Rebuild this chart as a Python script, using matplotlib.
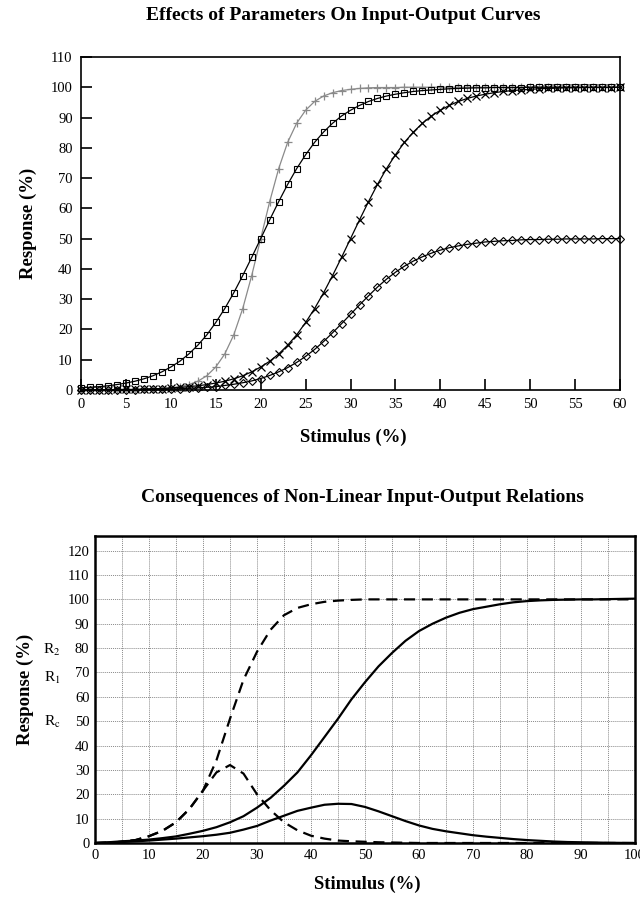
import matplotlib.pyplot as plt

plt.rcParams['font.family'] = ['Liberation Serif', 'DejaVu Serif']
plt.rcParams['mathtext.fontset'] = 'stix'

# upper panel: response at each stimulus step (0..60 %)
stim_top = list(range(0, 61))
steep = [0.0, 0.0, 0.0, 0.0, 0.0, 0.1, 0.1, 0.2, 0.3, 0.4,
         0.7, 1.1, 1.8, 2.9, 4.7, 7.6, 11.9, 18.2, 26.9, 37.8,
         50.0, 62.2, 73.1, 81.8, 88.1, 92.4, 95.3, 97.1, 98.2, 98.9,
         99.3, 99.6, 99.8, 99.9, 99.9, 99.9, 100.0, 100.0, 100.0, 100.0,
         100.0, 100.0, 100.0, 100.0, 100.0, 100.0, 100.0, 100.0, 100.0, 100.0,
         100.0, 100.0, 100.0, 100.0, 100.0, 100.0, 100.0, 100.0, 100.0, 100.0, 100.0]
shallow = [0.7, 0.9, 1.1, 1.4, 1.8, 2.3, 2.9, 3.7, 4.7, 6.0,
           7.6, 9.5, 11.9, 14.8, 18.2, 22.3, 26.9, 32.1, 37.8, 43.8,
           50.0, 56.2, 62.2, 67.9, 73.1, 77.7, 81.8, 85.2, 88.1, 90.5,
           92.4, 94.0, 95.3, 96.3, 97.1, 97.7, 98.2, 98.6, 98.9, 99.1,
           99.3, 99.5, 99.6, 99.7, 99.8, 99.8, 99.9, 99.9, 99.9, 99.9,
           100.0, 100.0, 100.0, 100.0, 100.0, 100.0, 100.0, 100.0, 100.0, 100.0, 100.0]
shifted = [0.1, 0.1, 0.1, 0.1, 0.2, 0.2, 0.2, 0.3, 0.4, 0.5,
           0.7, 0.9, 1.1, 1.4, 1.8, 2.3, 2.9, 3.7, 4.7, 6.0,
           7.6, 9.5, 11.9, 14.8, 18.2, 22.3, 26.9, 32.1, 37.8, 43.8,
           50.0, 56.2, 62.2, 67.9, 73.1, 77.7, 81.8, 85.2, 88.1, 90.5,
           92.4, 94.0, 95.3, 96.3, 97.1, 97.7, 98.2, 98.6, 98.9, 99.1,
           99.3, 99.5, 99.6, 99.7, 99.8, 99.8, 99.9, 99.9, 99.9, 99.9, 100.0]
half_max = [0.0, 0.0, 0.0, 0.1, 0.1, 0.1, 0.1, 0.2, 0.2, 0.3,
            0.3, 0.4, 0.6, 0.7, 0.9, 1.1, 1.5, 1.9, 2.4, 3.0,
            3.8, 4.8, 6.0, 7.4, 9.1, 11.1, 13.4, 16.0, 18.9, 21.9,
            25.0, 28.1, 31.1, 34.0, 36.6, 38.9, 40.9, 42.6, 44.0, 45.2,
            46.2, 47.0, 47.6, 48.1, 48.5, 48.9, 49.1, 49.3, 49.4, 49.6,
            49.7, 49.7, 49.8, 49.8, 49.9, 49.9, 49.9, 49.9, 50.0, 50.0, 50.0]

# lower panel: stimulus 0..100 % in steps of 2.5
stim_bot = [i * 2.5 for i in range(41)]
r2 = [0.0, 0.1, 0.5, 1.2, 2.8, 5.0, 8.5, 14.0, 21.5, 34.0,
      51.0, 67.0, 78.5, 87.5, 93.5, 96.5, 98.0, 99.0, 99.5, 99.8,
      100.0, 100.0, 100.0, 100.0, 100.0, 100.0, 100.0, 100.0, 100.0, 100.0,
      100.0, 100.0, 100.0, 100.0, 100.0, 100.0, 100.0, 100.0, 100.0, 100.0, 100.0]
rc = [0.0, 0.1, 0.5, 1.2, 2.8, 5.0, 8.5, 14.0, 21.5, 29.0,
      32.0, 28.5, 20.0, 13.5, 8.5, 5.2, 3.0, 1.8, 1.0, 0.7,
      0.5, 0.3, 0.2, 0.1, 0.0, 0.0, 0.0, 0.0, 0.0, 0.0,
      0.0, 0.0, 0.0, 0.0, 0.0, 0.0, 0.0, 0.0, 0.0, 0.0, 0.0]
r1 = [0.0, 0.3, 0.7, 1.0, 1.4, 2.0, 2.7, 3.8, 5.0, 6.5,
      8.5, 11.0, 14.5, 18.5, 23.5, 29.0, 36.0, 43.5, 51.0, 59.0,
      66.0, 72.5, 78.0, 83.0, 87.0, 90.0, 92.5, 94.5, 96.0, 97.0,
      98.0, 98.8, 99.3, 99.6, 99.8, 99.9, 100.0, 100.0, 100.1, 100.2, 100.3]
r1_bell = [0.0, 0.2, 0.4, 0.7, 1.0, 1.4, 1.8, 2.3, 2.8, 3.4,
           4.2, 5.5, 7.0, 9.2, 11.2, 13.2, 14.5, 15.7, 16.1, 16.0,
           14.8, 13.0, 11.0, 9.0, 7.2, 5.8, 4.8, 4.0, 3.2, 2.6,
           2.1, 1.6, 1.2, 0.9, 0.6, 0.4, 0.3, 0.2, 0.1, 0.05, 0.0]

fig = plt.figure(figsize=(6.4, 8.97), dpi=100)

# ---- upper panel ----
ax1 = fig.add_axes([0.1266, 0.5652, 0.8422, 0.3713])
ax1.plot(stim_top, steep, color='#8a8a8a', lw=0.9, marker='+', ms=6, mew=0.9, clip_on=False)
ax1.plot(stim_top, shallow, color='black', lw=0.9, marker='s', ms=4.5, mfc='none', mew=0.8, clip_on=False)
ax1.plot(stim_top, shifted, color='black', lw=0.9, marker='x', ms=5.5, mew=0.9, clip_on=False)
ax1.plot(stim_top, half_max, color='black', lw=0.9, marker='D', ms=4.5, mfc='none', mew=0.8, clip_on=False)
ax1.set_xlim(0, 60)
ax1.set_ylim(0, 110)
ax1.set_xticks(range(0, 61, 5))
ax1.set_yticks(range(0, 111, 10))
ax1.tick_params(direction='in', length=8, width=1.2, labelsize=10.5, pad=6, top=False, right=False)
for s in ax1.spines.values():
    s.set_linewidth(1.2)
ax1.set_xlabel('Stimulus (%)', fontsize=13.5, fontweight='bold')
ax1.set_ylabel('Response (%)', fontsize=13.5, fontweight='bold')
ax1.xaxis.set_label_coords(0.505, -0.115)
ax1.yaxis.set_label_coords(-0.082, 0.5)
fig.text(343 / 640, 1 - 15 / 897, 'Effects of Parameters On Input-Output Curves',
         ha='center', va='center', fontsize=14, fontweight='bold')

# ---- lower panel ----
ax2 = fig.add_axes([0.1484, 0.0602, 0.8438, 0.3422])
dash_r2, = ax2.plot(stim_bot, r2, color='black', lw=1.6)
dash_r2.set_dashes((5, 3))
dash_rc, = ax2.plot(stim_bot, rc, color='black', lw=1.6)
dash_rc.set_dashes((5, 3))
ax2.plot(stim_bot, r1, color='black', lw=1.6)
ax2.plot(stim_bot, r1_bell, color='black', lw=1.6)
ax2.set_xlim(0, 100)
ax2.set_ylim(0, 126)
ax2.set_xticks(range(0, 101, 10))
ax2.set_xticks(range(5, 100, 10), minor=True)
ax2.set_yticks(range(0, 121, 10))
ax2.tick_params(which='both', length=0, labelsize=10.5, pad=4)
ax2.grid(True, which='both', color='#8a8a8a', lw=0.7, linestyle=(0, (1, 1)))
ax2.set_axisbelow(True)
for s in ax2.spines.values():
    s.set_linewidth(1.8)
ax2.set_xlabel('Stimulus (%)', fontsize=13.5, fontweight='bold')
ax2.set_ylabel('Response (%)', fontsize=13.5, fontweight='bold')
ax2.xaxis.set_label_coords(0.504, -0.107)
ax2.yaxis.set_label_coords(-0.113, 0.5)
fig.text(362 / 640, 1 - 497 / 897, 'Consequences of Non-Linear Input-Output Relations',
         ha='center', va='center', fontsize=14, fontweight='bold')

# curve names beside the response axis
for label, ypix in [(r'R$_2$', 650), (r'R$_1$', 678), (r'R$_\mathrm{c}$', 722)]:
    fig.text(52 / 640, 1 - ypix / 897, label, ha='center', va='center', fontsize=11)

fig.savefig('out.png', dpi=100)
